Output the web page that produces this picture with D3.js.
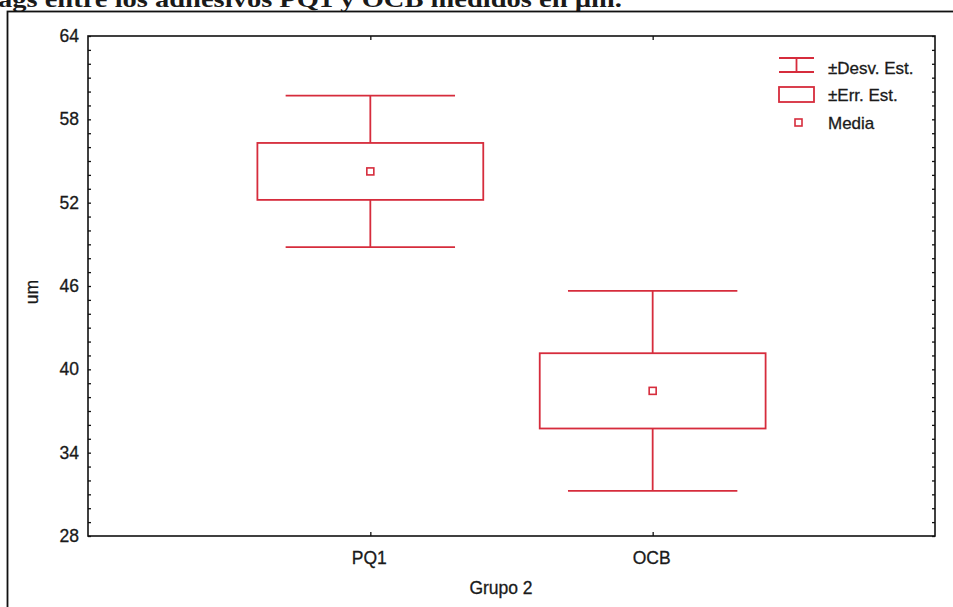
<!DOCTYPE html>
<html>
<head>
<meta charset="utf-8">
<script src="https://cdn.jsdelivr.net/npm/d3@7"></script>
<style>
  body { margin: 0; background: #fff; }
  text { font-family: "Liberation Sans", Arial, sans-serif; fill: #1a1a1a; stroke: #1a1a1a; stroke-width: 0.3px; }
</style>
</head>
<body>
<div id="chart"></div>
<script>
// values
const groups = ["PQ1", "OCB"];
const means = [54.25, 38.45];
const stdErr = [2.05, 2.71];
const stdDev = [5.45, 7.2];
const yTicks = [28, 34, 40, 46, 52, 58, 64];
const legendLabels = ["\u00b1Desv. Est.", "\u00b1Err. Est.", "Media"];

const w = 953, h = 607;
const margin = { top: 36, right: 18, bottom: 71, left: 88 };
const red = "#d62c3c";

let svg = d3.select("#chart")
    .append("svg")
    .attr("width", w)
    .attr("height", h);

// caption line cut off by the scan (top half is outside the page, as in the scan)
svg.append("text")
    .attr("x", -2)
    .attr("y", 7)
    .attr("textLength", 624)
    .attr("lengthAdjust", "spacingAndGlyphs")
    .style("font-family", "'Liberation Serif', 'Times New Roman', serif")
    .style("font-weight", "bold")
    .style("font-size", "24px")
    .style("stroke-width", 0)
    .text("ags entre los adhesivos PQ1 y OCB medidos en \u00b5m.");

// outer frame
svg.append("rect")
    .attr("x", 7.5)
    .attr("y", 11.5)
    .attr("width", 960)
    .attr("height", 620)
    .attr("fill", "none")
    .attr("stroke", "#111")
    .attr("stroke-width", 1.8);

let x = d3.scalePoint()
    .domain(groups)
    .range([margin.left, w - margin.right])
    .padding(1);

let y = d3.scaleLinear()
    .domain([28, 64])
    .range([h - margin.bottom, margin.top]);

let step = x.step();

// plot frame
svg.append("rect")
    .attr("x", margin.left)
    .attr("y", margin.top)
    .attr("width", w - margin.left - margin.right)
    .attr("height", h - margin.top - margin.bottom)
    .attr("fill", "none")
    .attr("stroke", "#111")
    .attr("stroke-width", 1.6);

// y axis, left with labels, right mirrored
let minor = d3.range(28, 65, 1);
let yAxis = d3.axisRight(y).tickValues(minor).tickSize(3).tickFormat("");
svg.append("g")
    .attr("transform", "translate(" + margin.left + ",0)")
    .call(yAxis)
    .call(g => g.select(".domain").remove());
svg.append("g")
    .attr("transform", "translate(" + (w - margin.right) + ",0)")
    .call(d3.axisLeft(y).tickValues(minor).tickSize(3).tickFormat(""))
    .call(g => g.select(".domain").remove());

svg.append("g")
    .selectAll("text")
    .data(yTicks)
    .enter()
    .append("text")
    .attr("x", margin.left - 9)
    .attr("y", d => y(d))
    .attr("dy", "0.35em")
    .attr("text-anchor", "end")
    .style("font-size", "17.5px")
    .text(d => d);

// x axis ticks, bottom and top
svg.append("g")
    .attr("transform", "translate(0," + (h - margin.bottom) + ")")
    .call(d3.axisTop(x).tickSize(4).tickFormat(""))
    .call(g => g.select(".domain").remove());
svg.append("g")
    .attr("transform", "translate(0," + margin.top + ")")
    .call(d3.axisBottom(x).tickSize(4).tickFormat(""))
    .call(g => g.select(".domain").remove());

svg.selectAll(".tick line").attr("stroke", "#111").attr("stroke-width", 1.3);

svg.append("g")
    .selectAll("text")
    .data(groups)
    .enter()
    .append("text")
    .attr("x", d => x(d) - 1)
    .attr("y", h - margin.bottom + 28)
    .attr("text-anchor", "middle")
    .style("font-size", "17.5px")
    .text(d => d);

// axis titles
svg.append("text")
    .attr("x", 501)
    .attr("y", 594)
    .attr("text-anchor", "middle")
    .style("font-size", "17.5px")
    .text("Grupo 2");

svg.append("text")
    .attr("transform", "translate(38,292) rotate(-90)")
    .attr("text-anchor", "middle")
    .style("font-size", "17.5px")
    .text("um");

// boxes: whiskers = mean +- sd, box = mean +- se
let data = groups.map((g, i) => ({ g: g, m: means[i], se: stdErr[i], sd: stdDev[i] }));
let capW = step * 0.6, boxW = step * 0.8;

let box = svg.selectAll(".grp")
    .data(data)
    .enter()
    .append("g")
    .attr("class", "grp")
    .attr("fill", "none")
    .attr("stroke", red)
    .attr("stroke-width", 1.8);

box.append("line")
    .attr("x1", d => x(d.g)).attr("x2", d => x(d.g))
    .attr("y1", d => y(d.m + d.sd)).attr("y2", d => y(d.m - d.sd));
box.append("line")
    .attr("x1", d => x(d.g) - capW / 2).attr("x2", d => x(d.g) + capW / 2)
    .attr("y1", d => y(d.m + d.sd)).attr("y2", d => y(d.m + d.sd));
box.append("line")
    .attr("x1", d => x(d.g) - capW / 2).attr("x2", d => x(d.g) + capW / 2)
    .attr("y1", d => y(d.m - d.sd)).attr("y2", d => y(d.m - d.sd));
box.append("rect")
    .attr("x", d => x(d.g) - boxW / 2)
    .attr("width", boxW)
    .attr("y", d => y(d.m + d.se))
    .attr("height", d => y(d.m - d.se) - y(d.m + d.se))
    .attr("fill", "#fff");
box.append("rect")
    .attr("x", d => x(d.g) - 3.5)
    .attr("y", d => y(d.m) - 3.5)
    .attr("width", 7)
    .attr("height", 7)
    .attr("stroke-width", 1.6);

// legend
let lg = svg.append("g")
    .attr("fill", "none")
    .attr("stroke", red)
    .attr("stroke-width", 1.8);
lg.append("line").attr("x1", 779).attr("x2", 814).attr("y1", 58).attr("y2", 58);
lg.append("line").attr("x1", 779).attr("x2", 814).attr("y1", 72).attr("y2", 72);
lg.append("line").attr("x1", 796.5).attr("x2", 796.5).attr("y1", 58).attr("y2", 72);
lg.append("rect").attr("x", 779).attr("y", 87).attr("width", 35).attr("height", 15);
lg.append("rect").attr("x", 795).attr("y", 119).attr("width", 7).attr("height", 7).attr("stroke-width", 1.6);

svg.append("g")
    .selectAll("text")
    .data(legendLabels)
    .enter()
    .append("text")
    .attr("x", 828)
    .attr("y", (d, i) => 68 + i * 27.5)
    .attr("dy", "0.35em")
    .style("font-size", "17px")
    .text(d => d);
</script>
</body>
</html>
